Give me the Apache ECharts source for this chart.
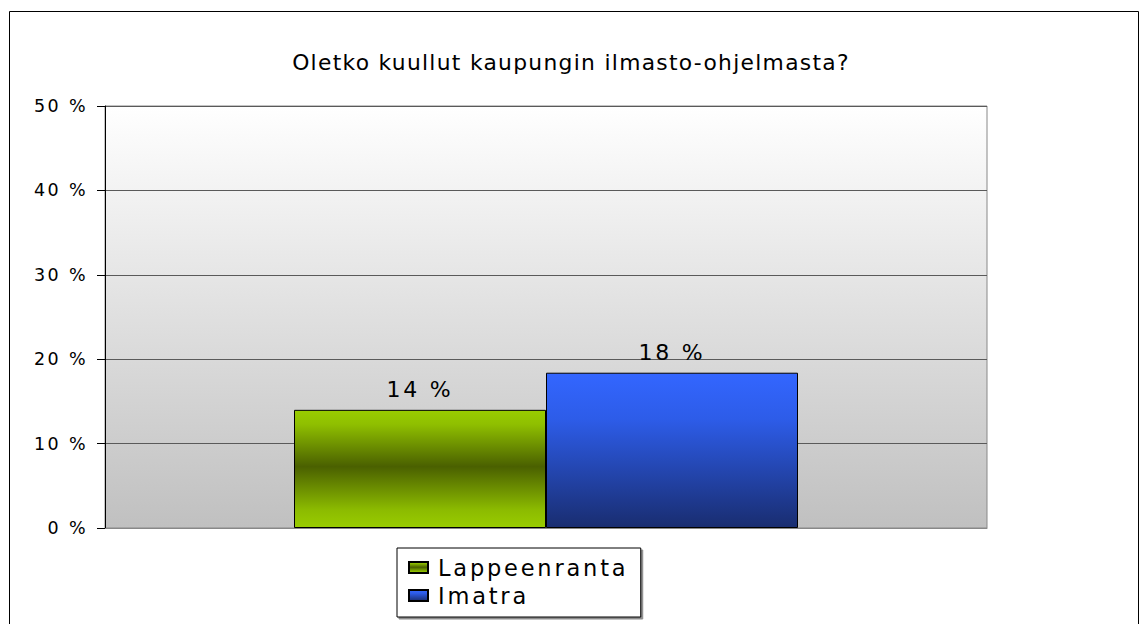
<!DOCTYPE html>
<html>
<head>
<meta charset="utf-8">
<script src="https://cdn.jsdelivr.net/npm/echarts@6/dist/echarts.min.js"></script>
<style>
html, body { margin: 0; padding: 0; background: #fff; }
#chart { width: 1140px; height: 624px; }
/* the original text is stretched wide, spread the glyphs a little to match */
#chart text[style*="21.8px"] { letter-spacing: 1.3px; }
#chart text[style*="17.5px"] { letter-spacing: 2.4px; }
#chart text[style*="22px"] { letter-spacing: 2.8px; }
#chart text[style*="22.5px"] { letter-spacing: 2.8px; }
</style>
</head>
<body>
<div id="chart"></div>
<script>
var titleText = 'Oletko kuullut kaupungin ilmasto-ohjelmasta?';
var categories = [''];
var seriesNames = ['Lappeenranta', 'Imatra'];
var lappeenrantaValues = [14.0];
var imatraValues = [18.4];
var yTicks = [0, 10, 20, 30, 40, 50];

var font = '"DejaVu Sans", Arial, sans-serif';

var greenFill = new echarts.graphic.LinearGradient(0, 0, 0, 1, [
    {offset: 0, color: '#99cc00'},
    {offset: 0.12, color: '#8fbf00'},
    {offset: 0.48, color: '#4a6000'},
    {offset: 0.85, color: '#8cbb00'},
    {offset: 1, color: '#99cc00'}
]);
var blueFill = new echarts.graphic.LinearGradient(0, 0, 0, 1, [
    {offset: 0, color: '#3366ff'},
    {offset: 0.3, color: '#2d5ce8'},
    {offset: 1, color: '#192d70'}
]);

var chart = echarts.init(document.getElementById('chart'), null, {renderer: 'svg'});
var option = {
    animation: false,
    title: {
        text: titleText,
        left: 566,
        textAlign: 'center',
        top: 46,
        textStyle: {color: '#000', fontSize: 21.8, fontWeight: 'normal', fontFamily: font}
    },
    grid: {
        left: 105, right: 153, top: 106, bottom: 96,
        show: true,
        borderColor: '#888',
        borderWidth: 1,
        backgroundColor: new echarts.graphic.LinearGradient(0, 0, 0, 1, [
            {offset: 0, color: '#ffffff'},
            {offset: 1, color: '#c0c0c0'}
        ])
    },
    legend: {
        orient: 'vertical',
        left: 397,
        top: 548,
        padding: [8, 46, 10, 11],
        itemGap: 5,
        itemWidth: 19,
        itemHeight: 11,
        borderColor: '#000',
        borderWidth: 1,
        backgroundColor: '#fff',
        shadowColor: 'rgba(0,0,0,0.45)',
        shadowOffsetX: 2,
        shadowOffsetY: 2,
        icon: 'rect',
        textStyle: {color: '#000', fontSize: 22.5, fontFamily: font, padding: [0, 0, 0, 5]},
        data: seriesNames
    },
    xAxis: {
        type: 'category',
        data: categories,
        axisLine: {show: true, lineStyle: {color: '#888'}},
        axisTick: {show: false},
        axisLabel: {show: false}
    },
    yAxis: {
        type: 'value',
        min: yTicks[0],
        max: yTicks[yTicks.length - 1],
        interval: 10,
        axisLine: {show: true, lineStyle: {color: '#000'}},
        axisTick: {show: true, length: 8, lineStyle: {color: '#000'}},
        axisLabel: {
            color: '#000', fontSize: 17.5, fontFamily: font, margin: 17,
            formatter: function (v) { return v + ' %'; }
        },
        splitLine: {show: true, lineStyle: {color: '#5a5a5a', width: 1}}
    },
    series: [
        {
            name: seriesNames[0],
            type: 'bar',
            data: lappeenrantaValues,
            barWidth: 252,
            barGap: '0%',
            itemStyle: {color: greenFill, borderColor: '#000', borderWidth: 1},
            label: {
                show: true, position: 'top', distance: 9, color: '#000',
                fontSize: 22, fontFamily: font,
                formatter: function (p) { return Math.round(p.value) + ' %'; }
            }
        },
        {
            name: seriesNames[1],
            type: 'bar',
            data: imatraValues,
            barWidth: 252,
            barGap: '0%',
            itemStyle: {color: blueFill, borderColor: '#000', borderWidth: 1},
            label: {
                show: true, position: 'top', distance: 9, color: '#000',
                fontSize: 22, fontFamily: font,
                formatter: function (p) { return Math.round(p.value) + ' %'; }
            }
        }
    ],
    graphic: [
        {
            type: 'rect',
            silent: true,
            z: -10,
            shape: {x: 9.5, y: 11.5, width: 1129, height: 640},
            style: {fill: 'none', stroke: '#000', lineWidth: 1}
        }
    ]
};
chart.setOption(option);
</script>
</body>
</html>
